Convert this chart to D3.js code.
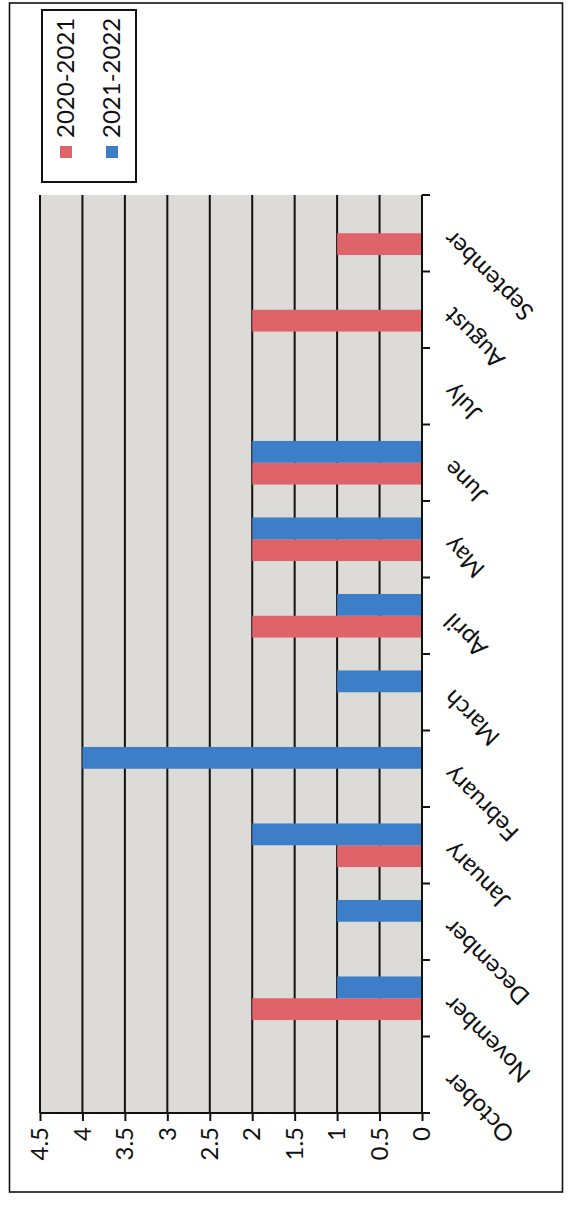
<!DOCTYPE html>
<html><head><meta charset="utf-8">
<script src="https://cdn.jsdelivr.net/npm/d3@7"></script>
<style>body{margin:0;background:#fff}svg{display:block}</style>
</head><body>
<svg id="c" width="572" height="1205"></svg>
<script>
const categories = ["October","November","December","January","February","March","April","May","June","July","August","September"];
const seriesNames = ["2020-2021","2021-2022"];
const values2020 = [0,2,0,1,0,0,2,2,2,0,2,1];
const values2021 = [0,1,1,2,4,1,1,2,2,0,0,0];
const yTicks = [0,0.5,1,1.5,2,2.5,3,3.5,4,4.5];
const colors = ["#e0636a","#3d7ec8"];

const svg = d3.select("#c");
const FONT = "Lato, 'Open Sans', sans-serif";
// whole chart is drawn in its upright orientation, then turned a quarter turn
const root = svg.append("g").attr("transform","translate(0,1205) rotate(-90)");

// outer frame
root.append("rect").attr("x",13).attr("y",9.5).attr("width",1189).attr("height",553)
  .attr("fill","#fff").attr("stroke","#111").attr("stroke-width",1.6);

const L = 92, T = 40, W = 918, H = 382;
const g = root.append("g").attr("transform",`translate(${L},${T})`);

const x0 = d3.scaleBand().domain(categories).range([0,W]).paddingInner(0.43).paddingOuter(0.215);
const x1 = d3.scaleBand().domain(seriesNames).range([0,x0.bandwidth()]);
const y = d3.scaleLinear().domain([0,4.5]).range([H,0]);

g.append("rect").attr("x",0).attr("y",0).attr("width",W).attr("height",H).attr("fill","#dcdbd8");

// gridlines
g.selectAll(".grid").data(yTicks.filter(d=>d>0)).join("line")
  .attr("x1",0).attr("x2",W).attr("y1",d=>y(d)).attr("y2",d=>y(d))
  .attr("stroke","#111").attr("stroke-width",2);

// bars
const rows = categories.map((c,i)=>({c, v:[values2020[i], values2021[i]]}));
const cg = g.selectAll(".cat").data(rows).join("g").attr("transform",d=>`translate(${x0(d.c)},0)`);
cg.selectAll("rect").data(d=>d.v.map((v,k)=>({k,v}))).join("rect")
  .attr("x",d=>x1(seriesNames[d.k])).attr("width",x1.bandwidth())
  .attr("y",d=>y(d.v)).attr("height",d=>H-y(d.v))
  .attr("fill",d=>colors[d.k]);

// value axis
const ya = g.append("g").call(d3.axisLeft(y).tickValues(yTicks).tickSize(8).tickPadding(6).tickFormat(d=>String(d)));
ya.select(".domain").attr("stroke","#111").attr("stroke-width",2).attr("d",`M0,${H}V0`);
ya.selectAll(".tick line").attr("stroke","#111").attr("stroke-width",2);
ya.selectAll("text").attr("font-family",FONT).attr("font-size",24).attr("fill","#111");

// category axis
const xa = g.append("g").attr("transform",`translate(0,${H})`);
xa.append("line").attr("x1",0).attr("x2",W).attr("stroke","#111").attr("stroke-width",2);
const bounds = d3.range(categories.length+1).map(i=>i*x0.step());
xa.selectAll(".bt").data(bounds).join("line")
  .attr("x1",d=>d).attr("x2",d=>d).attr("y1",0).attr("y2",8)
  .attr("stroke","#111").attr("stroke-width",2);
xa.selectAll(".lab").data(categories).join("text")
  .attr("transform",d=>`translate(${x0(d)+x0.bandwidth()/2-8},20) rotate(-45)`)
  .attr("text-anchor","end").attr("dy","0.7em")
  .attr("font-family",FONT).attr("font-size",24).attr("fill","#111")
  .text(d=>d);

// legend
const lg = root.append("g");
lg.append("rect").attr("x",1023).attr("y",42).attr("width",172).attr("height",94)
  .attr("fill","#fff").attr("stroke","#111").attr("stroke-width",2);
const li = lg.selectAll(".li").data(seriesNames).join("g")
  .attr("transform",(d,i)=>`translate(1047,${66+i*46})`);
li.append("rect").attr("x",0).attr("y",-6).attr("width",12).attr("height",12).attr("fill",(d,i)=>colors[i]);
li.append("text").attr("x",20).attr("dy","0.35em").attr("font-family",FONT).attr("font-size",24).attr("fill","#111").text(d=>d);
</script>
</body></html>
